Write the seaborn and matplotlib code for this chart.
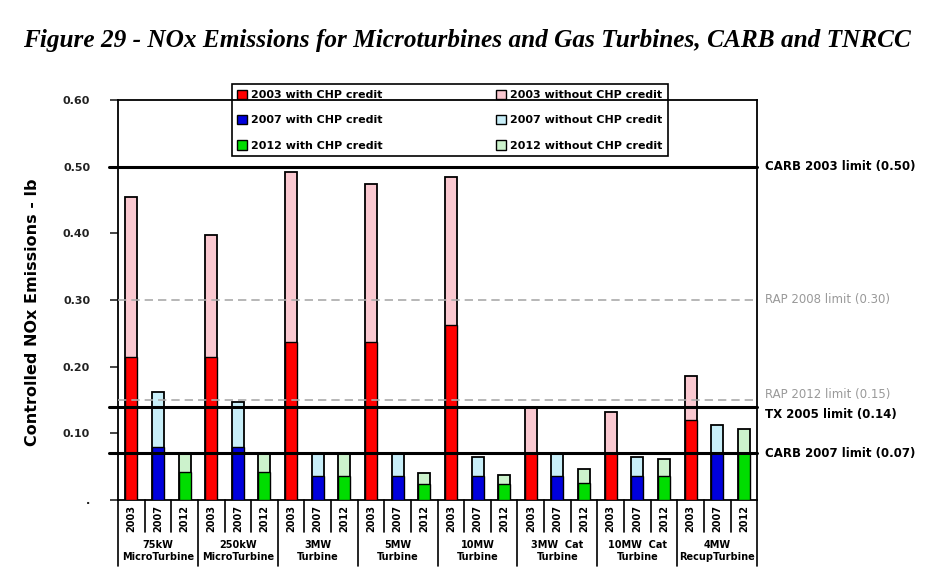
import pandas as pd
import numpy as np
import matplotlib
matplotlib.use("Agg")
import matplotlib.pyplot as plt
import matplotlib.transforms as mtransforms
from matplotlib.patches import Patch
import seaborn as sns

GROUPS = ["75kW\nMicroTurbine", "250kW\nMicroTurbine", "3MW\nTurbine", "5MW\nTurbine",
          "10MW\nTurbine", "3MW  Cat\nTurbine", "10MW  Cat\nTurbine", "4MW\nRecupTurbine"]
YEARS = ["2003", "2007", "2012"]
WITH_CHP = [0.215, 0.080, 0.042, 0.215, 0.080, 0.042, 0.237, 0.036, 0.036,
            0.237, 0.036, 0.024, 0.262, 0.036, 0.024, 0.070, 0.036, 0.025,
            0.070, 0.036, 0.036, 0.120, 0.070, 0.070]
WITHOUT_CHP = [0.455, 0.162, 0.070, 0.398, 0.147, 0.070, 0.492, 0.070, 0.070,
               0.474, 0.070, 0.040, 0.485, 0.064, 0.037, 0.138, 0.069, 0.047,
               0.132, 0.064, 0.062, 0.186, 0.112, 0.106]
LIMITS = [0.50, 0.30, 0.15, 0.14, 0.07]
LIMIT_LABELS = ["CARB 2003 limit (0.50)", "RAP 2008 limit (0.30)", "RAP 2012 limit (0.15)",
                "TX 2005 limit (0.14)", "CARB 2007 limit (0.07)"]
LIMIT_DASHED = [False, True, True, False, False]
YTICKS = [0, 0.1, 0.2, 0.3, 0.4, 0.5, 0.6]
YTICK_LABELS = [".", "0.10", "0.20", "0.30", "0.40", "0.50", "0.60"]

DARK = {"2003": "#ff0000", "2007": "#0000dd", "2012": "#00dd00"}
LIGHT = {"2003": "#fac8d0", "2007": "#c8eef8", "2012": "#ccf2cc"}


def main():
    sns.set_style("white")
    plt.rcParams["font.family"] = ["DejaVu Sans"]
    plt.rcParams["text.color"] = "black"
    plt.rcParams["axes.labelcolor"] = "black"

    n = len(WITH_CHP)
    df = pd.DataFrame({
        "pos": list(range(n)),
        "year": YEARS * len(GROUPS),
        "with": WITH_CHP,
        "without": WITHOUT_CHP,
    })

    fig = plt.figure(figsize=(9.4, 5.78), dpi=100)
    ax = fig.add_axes([0.1255, 0.135, 0.68, 0.692])

    sns.barplot(data=df, x="pos", y="without", hue="year", palette=LIGHT, dodge=False,
                width=0.45, saturation=1, edgecolor="black", linewidth=1.3,
                legend=False, ax=ax, zorder=2)
    sns.barplot(data=df, x="pos", y="with", hue="year", palette=DARK, dodge=False,
                width=0.45, saturation=1, edgecolor="black", linewidth=1.0,
                legend=False, ax=ax, zorder=3)

    ax.set_xlim(-0.5, n - 0.5)
    ax.set_ylim(0, 0.6)
    ax.set_yticks(YTICKS)
    ax.set_yticklabels(YTICK_LABELS, fontsize=8, fontweight="bold", color="#222222")
    ax.tick_params(axis="y", direction="out", length=6, width=1.2, left=True, pad=14)
    ax.set_xticks([])
    ax.set_xlabel("")
    ax.set_ylabel("Controlled NOx Emissions - lb", fontsize=11.5, fontweight="bold",
                  labelpad=12)
    ax.yaxis.set_label_coords(-0.122, 0.47)
    for s in ax.spines.values():
        s.set_visible(True)
        s.set_color("black")
        s.set_linewidth(1.3)

    # limit lines and labels
    for val, lab, dashed in zip(LIMITS, LIMIT_LABELS, LIMIT_DASHED):
        if dashed:
            ax.plot([-0.5, n - 0.5], [val, val], color="#aaaaaa", lw=1.2,
                    ls=(0, (5, 3)), zorder=4)
            col, fw = "#999999", "normal"
        else:
            ax.plot([-0.85, n - 0.5], [val, val], color="black", lw=2.2,
                    zorder=4, clip_on=False)
            col, fw = "black", "bold"
        dy = 0
        if val == 0.15:
            dy = 0.008
        if val == 0.14:
            dy = -0.012
        ax.text(n - 0.2, val + dy, lab, color=col, fontsize=8.5, fontweight=fw,
                va="center", ha="left", clip_on=False)

    # category axis below plot
    trans = mtransforms.blended_transform_factory(ax.transData, ax.transAxes)
    for i in range(n):
        ax.text(i, -0.012, YEARS[i % 3], transform=trans, rotation=90, ha="center",
                va="top", fontsize=7, fontweight="bold")
    for b in range(n + 1):
        x = b - 0.5
        low = -0.165 if b % 3 == 0 else -0.08
        ax.plot([x, x], [0, low], transform=trans, color="black", lw=1.2, clip_on=False)
    for g, name in enumerate(GROUPS):
        ax.text(3 * g + 1, -0.1, name, transform=trans, ha="center", va="top",
                fontsize=7, fontweight="bold", linespacing=1.3)

    handles = [Patch(facecolor=DARK[y], edgecolor="black", label=f"{y} with CHP credit") for y in YEARS]
    handles += [Patch(facecolor=LIGHT[y], edgecolor="black", label=f"{y} without CHP credit") for y in YEARS]
    leg = ax.legend(handles=handles, ncol=2, loc="upper left",
                    bbox_to_anchor=(0.178, 1.04, 0.682, 0), mode="expand",
                    frameon=True, fancybox=False, edgecolor="black", framealpha=1,
                    prop={"size": 8, "weight": "bold"}, handlelength=0.9, handleheight=0.9,
                    handletextpad=0.3, labelspacing=1.35, borderaxespad=0,
                    borderpad=0.5, columnspacing=2)
    leg.get_frame().set_linewidth(1.2)
    leg.set_zorder(2)

    fig.text(0.497, 0.93, "Figure 29 - NOx Emissions for Microturbines and Gas Turbines, CARB and TNRCC",
             ha="center", va="center", fontsize=18.2, fontweight="bold", style="italic",
             family="Liberation Serif")

    fig.savefig("out.png", dpi=100)


if __name__ == "__main__":
    main()
